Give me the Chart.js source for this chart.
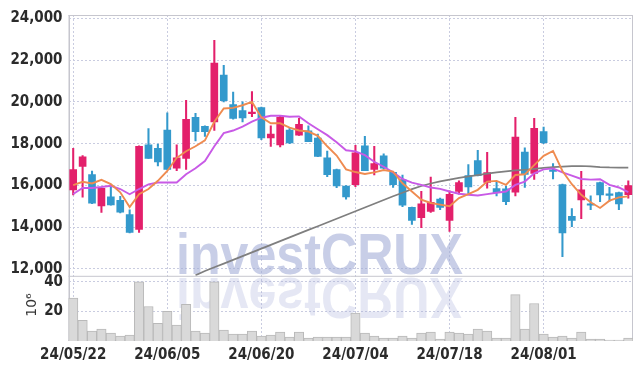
<!DOCTYPE html>
<html>
<head>
<meta charset="utf-8">
<script src="https://cdn.jsdelivr.net/npm/chart.js@4/dist/chart.umd.min.js"></script>
<style>
  html, body { margin: 0; padding: 0; background: #fff; }
  #wrap { width: 643px; height: 369px; position: relative; }
</style>
</head>
<body>
<div id="wrap"><canvas id="c" width="643" height="369"></canvas></div>
<script>
const dates = ['24/05/22','24/05/23','24/05/24','24/05/27','24/05/28','24/05/29','24/05/30','24/05/31','24/06/03','24/06/04',
  '24/06/05','24/06/07','24/06/10','24/06/11','24/06/12','24/06/13','24/06/14','24/06/17','24/06/18','24/06/19',
  '24/06/20','24/06/21','24/06/24','24/06/25','24/06/26','24/06/27','24/06/28','24/07/01','24/07/02','24/07/03',
  '24/07/04','24/07/05','24/07/08','24/07/09','24/07/10','24/07/11','24/07/12','24/07/15','24/07/16','24/07/17',
  '24/07/18','24/07/19','24/07/22','24/07/23','24/07/24','24/07/25','24/07/26','24/07/29','24/07/30','24/07/31',
  '24/08/01','24/08/02','24/08/05','24/08/06','24/08/07','24/08/08','24/08/09','24/08/12','24/08/13','24/08/14'];

const openP  = [15780,16910,16520,15020,15450,15290,14600,13890,17940,17780,
  18650,16820,17290,19260,18830,19040,21290,19870,19590,19440,
  19730,18280,17940,18650,18410,18610,18270,17320,16760,15970,
  16030,17900,16770,17420,16630,16280,14950,14450,14750,15350,
  14320,15710,16470,17190,16140,15850,15840,15680,17600,16580,
  18580,16750,16040,14520,15300,15120,16140,15590,15660,15550];
const highP  = [17780,17430,16690,15860,16050,15480,14830,17900,18720,17980,
  19480,17950,20080,19450,18860,22950,21750,20470,20000,20500,
  19750,18850,19320,18760,19210,18850,18460,17640,16780,15990,
  17920,18350,17870,17510,16650,16500,14960,15710,16400,15390,
  15740,16220,17000,17680,17590,16180,15950,19260,17800,19220,
  18790,17050,16060,14890,16670,15500,16160,15910,15680,16220];
const lowP   = [15540,15430,15120,14710,15050,14680,13720,13750,17290,16930,
  16770,16710,16760,18130,18350,18630,20000,19180,19040,19290,
  18190,17870,17840,18000,18400,18090,17380,16420,15890,15340,
  15940,16700,16500,16800,15900,14980,14130,13970,14700,14840,
  13800,15580,15610,16460,15870,15500,15080,15500,15900,16290,
  18000,16310,12580,14020,14410,14840,15220,15240,14840,15390];
const closeP = [16760,17370,15150,15860,15070,14720,13750,17870,17290,17120,
  16770,17320,19170,18570,18570,21860,20060,19210,19230,19520,
  18280,18460,19260,18030,18930,18090,17390,16520,15970,15450,
  17560,16700,17040,16820,16030,15050,14320,15120,15190,14950,
  15570,16140,15930,16470,16610,15650,15220,18320,16530,18730,
  18050,16670,13720,14320,15790,15050,15540,15520,15110,15990];

const volume = [28.9,14,6.7,8,5.3,3.3,4,40,23.3,12,
  20,10.7,24.7,6.7,5.3,40,7.3,4.7,4.7,6.7,
  3.3,4,6,2.7,6,2,2.7,2.7,2.7,2.7,
  18.9,5.3,3.3,2,2,3.3,2,5.3,6,1.3,
  6,5.3,4.7,8,6.7,2,2,31.3,8,25.3,
  4.7,2.7,3.3,2,6,1.3,1.3,0.7,0.7,2];

const maShort = [16015,16172,16094,16267,16062,15668,14960,15574,15826,16220,
  16692,17322,17637,17874,18157,19050,19685,19716,19842,20000,
  19260,18976,18976,18771,18630,18582,18377,17874,17433,16771,
  16640,16546,16625,16736,16657,16104,15709,15314,15156,15077,
  14998,15393,15583,15788,16183,16215,16025,16499,16531,16973,
  17415,17652,16689,16057,15551,15188,14919,15267,15425,15472];
const maMid = [15590,15873,15873,15920,15984,15826,15574,15826,16047,16141,
  16141,16141,16535,16818,17165,17880,18504,18630,18820,19055,
  19244,19338,19338,19291,19307,18976,18692,18409,18063,17685,
  17630,17447,17131,16894,16625,16309,16136,16025,15899,15835,
  15709,15598,15551,15519,15583,15650,15709,16025,16183,16578,
  16768,16815,16625,16467,16309,16278,16293,16025,15899,15677];
const maLong = [null,null,null,null,null,null,null,null,null,null,
  null,null,null,11690,11900,12080,12250,12430,12610,12790,
  12970,13150,13330,13510,13690,13870,14040,14220,14400,14580,
  14760,14940,15120,15300,15480,15650,15820,15970,16090,16190,
  16280,16360,16430,16490,16560,16620,16670,16720,16750,16790,
  16840,16880,16900,16920,16930,16910,16880,16860,16850,16850];

const priceTicks = [12000,14000,16000,18000,20000,22000,24000];
const volTicks = [20,40];
const volUnit = '10⁶';
const labelEvery = 10;

const UP = '#e3206b', DOWN = '#3399cc';
const candleColors = openP.map((o,i) => closeP[i] >= o ? UP : DOWN);
const bodies = openP.map((o,i) => [o, closeP[i]]);
const wicks = lowP.map((l,i) => [l, highP[i]]);

const FONT = "'Liberation Sans Narrow','DejaVu Sans Condensed','Liberation Sans',sans-serif";
const gridColor = '#c9cce0';

const framePlugin = {
  id: 'frame',
  beforeDatasetsDraw(chart) {
    const ctx = chart.ctx;
    const a = chart.chartArea;
    const ySep = chart.scales.y.bottom;
    ctx.save();
    ctx.font = "bold 57px 'Liberation Sans', Arial, sans-serif";
    const txt = 'investCRUX';
    const w = ctx.measureText(txt).width;
    const sx = 287 / w;
    ctx.beginPath();
    ctx.rect(a.left, a.top, a.right - a.left, a.bottom - a.top);
    ctx.clip();
    ctx.save();
    ctx.translate(176, 274);
    ctx.scale(sx, 1);
    ctx.fillStyle = 'rgba(160,170,214,0.58)';
    ctx.fillText(txt, 0, 0);
    ctx.restore();
    ctx.save();
    ctx.translate(176, 278);
    ctx.scale(sx, -1);
    ctx.fillStyle = 'rgba(160,170,214,0.28)';
    ctx.fillText(txt, 0, 0);
    ctx.restore();
    ctx.restore();
    ctx.save();
    ctx.strokeStyle = '#c6c6ce';
    ctx.lineWidth = 1;
    ctx.beginPath();
    ctx.moveTo(a.left, a.top + 0.5); ctx.lineTo(a.right, a.top + 0.5);
    ctx.moveTo(a.right - 0.5, a.top); ctx.lineTo(a.right - 0.5, a.bottom);
    ctx.moveTo(a.left, ySep + 0.5); ctx.lineTo(a.right, ySep + 0.5);
    ctx.moveTo(a.left, a.bottom - 0.5); ctx.lineTo(a.right, a.bottom - 0.5);
    ctx.stroke();
    ctx.lineWidth = 1.5;
    ctx.beginPath();
    ctx.moveTo(a.left + 0.75, a.top); ctx.lineTo(a.left + 0.75, a.bottom);
    ctx.stroke();
    ctx.restore();
  },
  afterDraw(chart) {
    const ctx = chart.ctx;
    const s = chart.scales.yv;
    const xr = Math.round(chart.chartArea.left - 6);
    for (const v of volTicks) {
      ctx.save();
      ctx.fillStyle = '#2b2b2b';
      ctx.font = "bold 15px " + FONT;
      ctx.textAlign = 'right';
      ctx.textBaseline = 'middle';
      ctx.fillText(String(v), xr, Math.round(s.getPixelForValue(v)));
      ctx.restore();
    }
    ctx.save();
    ctx.translate(36, Math.round((s.top + s.bottom) / 2 - 3));
    ctx.rotate(-Math.PI / 2);
    ctx.fillStyle = '#333';
    ctx.font = "14px 'DejaVu Sans','Liberation Sans',sans-serif";
    ctx.textAlign = 'center';
    ctx.textBaseline = 'alphabetic';
    ctx.fillText(volUnit, 0, 0);
    ctx.restore();
  }
};

new Chart(document.getElementById('c'), {
  data: {
    labels: dates,
    datasets: [
      { type: 'line', label: 'MA5', data: maShort, yAxisID: 'y', borderColor: '#ef8b50', borderWidth: 1.9, pointRadius: 0, tension: 0, order: 0 },
      { type: 'line', label: 'MA10', data: maMid, yAxisID: 'y', borderColor: '#c85ae6', borderWidth: 1.9, pointRadius: 0, tension: 0, order: 0 },
      { type: 'line', label: 'MA60', data: maLong, yAxisID: 'y', borderColor: '#7f7f7f', borderWidth: 1.7, pointRadius: 0, tension: 0, order: 0, spanGaps: false },
      { type: 'bar', label: 'body', data: bodies, yAxisID: 'y', backgroundColor: candleColors, barThickness: 7, grouped: false, order: 1 },
      { type: 'bar', label: 'wick', data: wicks, yAxisID: 'y', backgroundColor: candleColors, barThickness: 1.4, grouped: false, order: 2 },
      { type: 'bar', label: 'volume', data: volume, yAxisID: 'yv', backgroundColor: '#d9d9d9', borderColor: '#b9b9b9', borderWidth: 1, barPercentage: 1, categoryPercentage: 1, grouped: false, order: 3 }
    ]
  },
  options: {
    responsive: false,
    animation: false,
    events: [],
    layout: { padding: { top: 12, right: 10, left: 0, bottom: 0 } },
    plugins: { legend: { display: false }, tooltip: { enabled: false } },
    scales: {
      x: {
        type: 'category',
        offset: true,
        grid: { offset: false, color: gridColor, drawTicks: false, tickLength: 0 },
        border: { display: false, dash: [2, 2] },
        ticks: {
          autoSkip: false, maxRotation: 0, minRotation: 0, padding: 5,
          color: '#2b2b2b', font: { family: FONT, size: 15, weight: 'bold' },
          callback: function (v, i) { return i % labelEvery === 0 ? this.getLabelForValue(v) : null; }
        },
        afterFit(s) { s.height = 28; }
      },
      y: {
        type: 'linear', position: 'left', stack: 'p', stackWeight: 4, weight: 1,
        min: 11667, max: 24167,
        grid: { color: gridColor, drawTicks: false },
        border: { display: false, dash: [2, 2] },
        afterBuildTicks(s) { s.ticks = priceTicks.map(v => ({ value: v })); },
        ticks: {
          autoSkip: false,
          padding: 6, color: '#2b2b2b', font: { family: FONT, size: 15, weight: 'bold' },
          callback: v => v.toLocaleString('en-US')
        },
        afterFit(s) { s.width = 68.5; }
      },
      yv: {
        type: 'linear', position: 'left', stack: 'p', stackWeight: 1, weight: 0,
        min: 0, max: 44,
        grid: { color: gridColor, drawTicks: false },
        border: { display: false, dash: [2, 2] },
        afterBuildTicks(s) { s.ticks = volTicks.map(v => ({ value: v })); },
        ticks: { display: false },
        afterFit(s) { s.width = 68.5; }
      }
    }
  },
  plugins: [framePlugin]
});
</script>
</body>
</html>
